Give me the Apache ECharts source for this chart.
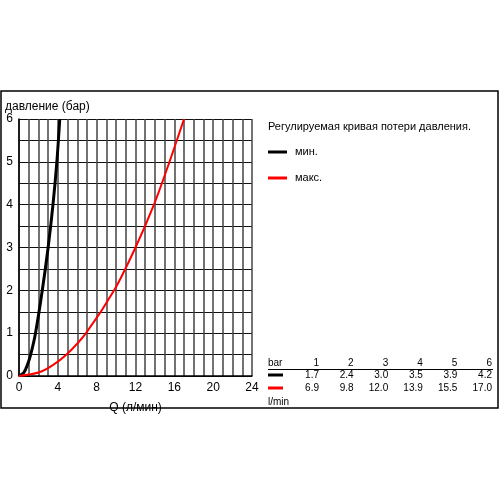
<!DOCTYPE html>
<html>
<head>
<meta charset="utf-8">
<script src="https://cdn.jsdelivr.net/npm/echarts@6/dist/echarts.min.js"></script>
<style>
html,body{margin:0;padding:0;background:#fff;}
#c{width:500px;height:500px;}
</style>
</head>
<body>
<div id="c"></div>
<script>
// Curve data (pressure in bar vs flow in l/min)
const pressureBar = [0, 0.08, 0.25, 0.5, 1, 2, 3, 4, 5, 6];
const flowMin = [0, 0.5, 0.85, 1.2, 1.7, 2.4, 3.0, 3.5, 3.9, 4.2];
const flowMax = [0, 2.0, 3.45, 4.9, 6.9, 9.8, 12.0, 13.9, 15.5, 17.0];

// Table
const tableBar = ['1', '2', '3', '4', '5', '6'];
const tableMin = ['1.7', '2.4', '3.0', '3.5', '3.9', '4.2'];
const tableMax = ['6.9', '9.8', '12.0', '13.9', '15.5', '17.0'];

const seriesNames = ['мин.', 'макс.'];
const seriesColors = ['#000000', '#ff0000'];
const legendTitle = 'Регулируемая кривая потери давления.';
const yName = 'давление (бар)';
const xName = 'Q (л/мин)';
const tableHead = 'bar';
const tableUnit = 'l/min';

const FONT = 'Liberation Sans, Arial, sans-serif';

const chart = echarts.init(document.getElementById('c'), null, {renderer: 'canvas'});

const graphics = [];
// outer frame
graphics.push({type: 'rect', shape: {x: 1, y: 91, width: 497, height: 317},
  style: {fill: null, stroke: '#000', lineWidth: 1.5}, silent: true});
// y axis name
graphics.push({type: 'text', x: 5, y: 107,
  style: {text: yName, font: '12px ' + FONT, fill: '#000', verticalAlign: 'middle'}});
// legend title
graphics.push({type: 'text', x: 268, y: 127,
  style: {text: legendTitle, font: '11px ' + FONT, fill: '#000', verticalAlign: 'middle'}});
// legend items
[152, 178].forEach((yy, i) => {
  graphics.push({type: 'line', shape: {x1: 268, y1: yy, x2: 287, y2: yy},
    style: {stroke: seriesColors[i], lineWidth: 3}});
  graphics.push({type: 'text', x: 295, y: yy,
    style: {text: seriesNames[i], font: '11px ' + FONT, fill: '#000', verticalAlign: 'middle'}});
});
// table
const colX = tableBar.map((_, i) => 319 + i * 34.6);
const tFont = '10px ' + FONT;
graphics.push({type: 'text', x: 268, y: 363,
  style: {text: tableHead, font: tFont, fill: '#000', verticalAlign: 'middle'}});
graphics.push({type: 'line', shape: {x1: 268, y1: 369.5, x2: 493, y2: 369.5},
  style: {stroke: '#000', lineWidth: 1}});
const rows = [tableMin, tableMax];
const rowY = [375, 388];
rows.forEach((row, r) => {
  graphics.push({type: 'line', shape: {x1: 268, y1: rowY[r], x2: 283, y2: rowY[r]},
    style: {stroke: seriesColors[r], lineWidth: 3}});
  row.forEach((v, i) => {
    graphics.push({type: 'text', x: colX[i], y: rowY[r],
      style: {text: v, font: tFont, fill: '#000', align: 'right', verticalAlign: 'middle'}});
  });
});
tableBar.forEach((v, i) => {
  graphics.push({type: 'text', x: colX[i], y: 363,
    style: {text: v, font: tFont, fill: '#000', align: 'right', verticalAlign: 'middle'}});
});
graphics.push({type: 'text', x: 268, y: 402,
  style: {text: tableUnit, font: tFont, fill: '#000', verticalAlign: 'middle'}});

chart.setOption({
  animation: false,
  backgroundColor: '#fff',
  grid: {left: 19, top: 119, width: 233, height: 257, containLabel: false},
  xAxis: {
    type: 'value', min: 0, max: 24, interval: 4,
    name: xName, nameLocation: 'middle', nameGap: 26,
    nameTextStyle: {fontSize: 12, fontFamily: FONT, color: '#000'},
    axisLine: {show: true, lineStyle: {color: '#000', width: 1.5}},
    axisTick: {show: false},
    axisLabel: {fontSize: 12, fontFamily: FONT, color: '#000', margin: 6},
    splitLine: {show: true, lineStyle: {color: '#444', width: 1.5}},
    minorTick: {show: false, splitNumber: 4},
    minorSplitLine: {show: true, lineStyle: {color: '#444', width: 1.5}}
  },
  yAxis: {
    type: 'value', min: 0, max: 6, interval: 1,
    axisLine: {show: true, lineStyle: {color: '#000', width: 1.5}},
    axisTick: {show: false},
    axisLabel: {fontSize: 12, fontFamily: FONT, color: '#000', margin: 6},
    splitLine: {show: true, lineStyle: {color: '#111', width: 1}},
    minorTick: {show: false, splitNumber: 2},
    minorSplitLine: {show: true, lineStyle: {color: '#111', width: 1}}
  },
  series: [
    {
      name: seriesNames[0], type: 'line', smooth: 0.3,
      showSymbol: false, z: 5,
      lineStyle: {color: seriesColors[0], width: 3},
      data: pressureBar.map((p, i) => [flowMin[i], p])
    },
    {
      name: seriesNames[1], type: 'line', smooth: 0.3,
      showSymbol: false, z: 5,
      lineStyle: {color: seriesColors[1], width: 2},
      data: pressureBar.map((p, i) => [flowMax[i], p])
    }
  ],
  graphic: graphics
});
</script>
</body>
</html>
